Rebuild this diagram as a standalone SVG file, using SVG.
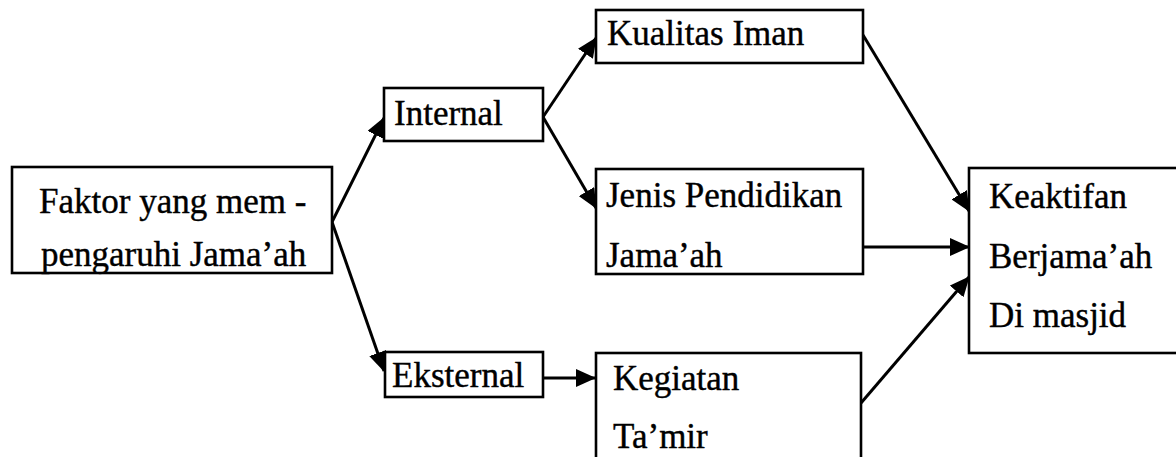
<svg xmlns="http://www.w3.org/2000/svg" width="1176" height="457" viewBox="0 0 1176 457">
  <style>
    .box { fill: #ffffff; stroke: #000000; stroke-width: 2.6; }
    .t { font-size: 35px; fill: #000000; stroke: #000000; stroke-width: 0.4; }
    .c { fill: none; stroke: #000000; stroke-width: 3; marker-end: url(#ah); }
  </style>
  <defs>
    <marker id="ah" markerUnits="userSpaceOnUse" markerWidth="20" markerHeight="18" refX="19" refY="9" orient="auto">
      <path d="M0,0 L20,9 L0,18 Z" fill="#000000"/>
    </marker>
  </defs>
  <rect width="1176" height="457" fill="#ffffff"/>

  <g id="connectors">
    <line class="c" x1="332" y1="222" x2="384" y2="118"/>
    <line class="c" x1="332" y1="222" x2="384" y2="371"/>
    <line class="c" x1="543" y1="117" x2="596" y2="38"/>
    <line class="c" x1="543" y1="117" x2="596" y2="208"/>
    <line class="c" x1="543" y1="378" x2="595" y2="378"/>
    <line class="c" x1="863" y1="35" x2="969" y2="211"/>
    <line class="c" x1="863" y1="247" x2="969" y2="247"/>
    <line class="c" x1="861" y1="403" x2="969" y2="277"/>
  </g>

  <g font-family="'Liberation Serif', 'Times New Roman', 'DejaVu Serif', serif">
  <g id="node-faktor">
    <rect class="box" x="12" y="167" width="320" height="106"/>
    <text class="t" x="39" y="213">Faktor yang mem -</text>
    <text class="t" x="41" y="266">pengaruhi Jama’ah</text>
  </g>

  <g id="node-internal">
    <rect class="box" x="384" y="88" width="159" height="53"/>
    <text class="t" x="394" y="125">Internal</text>
  </g>

  <g id="node-eksternal">
    <rect class="box" x="385" y="352" width="158" height="45"/>
    <text class="t" x="392" y="387">Eksternal</text>
  </g>

  <g id="node-kualitas">
    <rect class="box" x="596" y="10" width="267" height="53"/>
    <text class="t" x="607" y="45">Kualitas Iman</text>
  </g>

  <g id="node-jenis">
    <rect class="box" x="596" y="169" width="267" height="105"/>
    <text class="t" x="606" y="207">Jenis Pendidikan</text>
    <text class="t" x="606" y="267">Jama’ah</text>
  </g>

  <g id="node-kegiatan">
    <rect class="box" x="596" y="353" width="265" height="130"/>
    <text class="t" x="613" y="390">Kegiatan</text>
    <text class="t" x="613" y="448">Ta’mir</text>
  </g>

  <g id="node-keaktifan">
    <rect class="box" x="969" y="168" width="230" height="185"/>
    <text class="t" x="989" y="208">Keaktifan</text>
    <text class="t" x="989" y="268">Berjama’ah</text>
    <text class="t" x="989" y="327">Di masjid</text>
  </g>
  </g>
</svg>
